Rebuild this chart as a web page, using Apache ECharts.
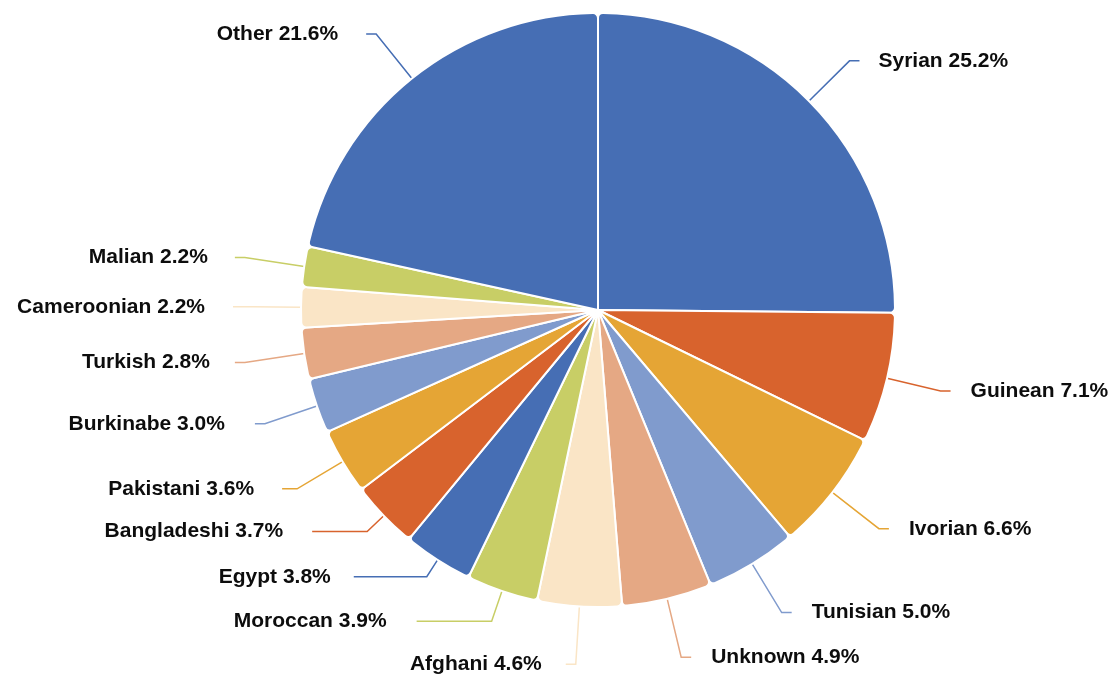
<!DOCTYPE html>
<html>
<head>
<meta charset="utf-8">
<script src="https://cdn.jsdelivr.net/npm/echarts@6/dist/echarts.min.js"></script>
<style>
html, body { margin: 0; padding: 0; background: #fff; }
#main { width: 1120px; height: 679px; }
</style>
</head>
<body>
<div id="main"></div>
<script>
// 国籍占比
var categories = ['Syrian', 'Guinean', 'Ivorian', 'Tunisian', 'Unknown', 'Afghani', 'Moroccan',
    'Egypt', 'Bangladeshi', 'Pakistani', 'Burkinabe', 'Turkish', 'Cameroonian', 'Malian', 'Other'];
var values = [25.2, 7.1, 6.6, 5.0, 4.9, 4.6, 3.9, 3.8, 3.7, 3.6, 3.0, 2.8, 2.2, 2.2, 21.6];

// 样式
var colorList = ['#466EB4', '#D8632D', '#E5A535', '#809BCD', '#E5A884', '#FAE5C6', '#C8CE66'];
var lineLen = [57, 55, 59, 57, 60, 58, 32, 20, 23, 53, 55, 60, 48, 60, 57];
var lineLen2 = [10, 10, 10, 10, 10, 10, 75, 73, 55, 15, 10, 10, 20, 10, 10];
var textGap = [19, 20, 20, 20, 20, 24, 30, 23, 29, 28, 30, 25, 28, 27, 28];

var myChart = echarts.init(document.getElementById('main'));
var data = [];
for (var i = 0; i < categories.length; i++) {
    data.push({
        name: categories[i],
        value: values[i],
        label: { distanceToLabelLine: textGap[i] },
        labelLine: { length: lineLen[i], length2: lineLen2[i] }
    });
}
var option = {
    animation: false,
    series: [
        {
            type: 'pie',
            center: [598, 310],
            radius: [0, 297],
            startAngle: 90,
            clockwise: true,
            avoidLabelOverlap: false,
            itemStyle: {
                borderColor: '#fff',
                borderWidth: 2,
                borderRadius: 5,
                color: function (params) {
                    return colorList[params.dataIndex % colorList.length];
                }
            },
            label: {
                show: true,
                position: 'outside',
                formatter: function (p) { return p.name + ' ' + p.value.toFixed(1) + '%'; },
                fontFamily: 'Liberation Sans, Arial, sans-serif',
                fontWeight: 'bold',
                fontSize: 21,
                color: '#0d0d0d'
            },
            labelLine: {
                show: true,
                lineStyle: { width: 1.5 }
            },
            data: data
        }
    ]
};
myChart.setOption(option);
</script>
</body>
</html>
